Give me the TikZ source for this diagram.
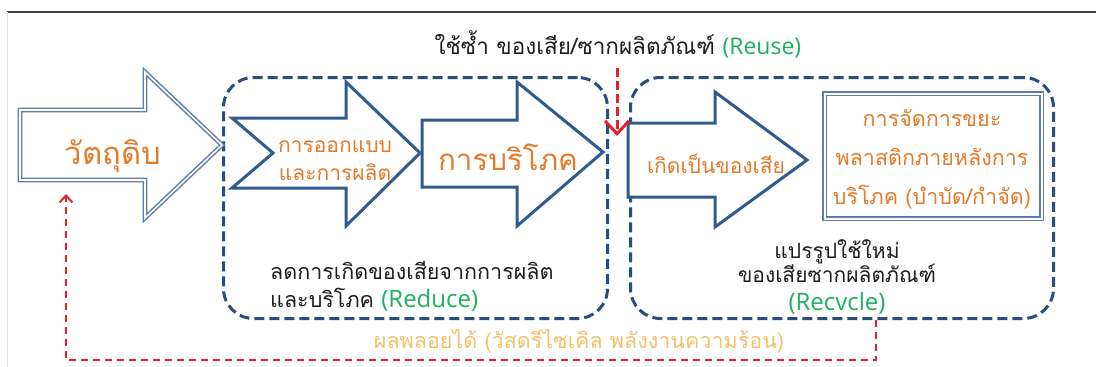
\documentclass[tikz,border=0pt]{standalone}
\usepackage{fontspec}
\usetikzlibrary{arrows.meta}
\newfontfamily\thai[Script=Thai]{Loma}
\newfontfamily\lat{Open Sans}
\definecolor{arrowblue}{HTML}{2F5B8F}
\definecolor{grpblue}{HTML}{2B4C7E}
\definecolor{dblblue}{HTML}{5F7FA8}
\definecolor{orangec}{HTML}{E47A2A}
\definecolor{greenc}{HTML}{1DB062}
\definecolor{goldc}{HTML}{F2C26A}
\definecolor{redc}{HTML}{E8202C}
\definecolor{inkc}{HTML}{1E1E1E}
\begin{document}
\begin{tikzpicture}[x=1pt,y=-1pt,
  outl/.style={draw=arrowblue, line width=3pt, line join=miter, fill=white},
  dbl/.style={draw=dblblue, double=white, double distance=1.6pt, line width=1.5pt, fill=white},
  grp/.style={draw=grpblue, line width=3pt, dash pattern=on 10pt off 5pt, rounded corners=30pt, inner sep=0pt},
  redline/.style={draw=redc, line width=2pt, dash pattern=on 7pt off 5pt},
  otxt/.style={text=orangec, inner sep=0pt},
  ktxt/.style={text=inkc, inner sep=0pt},
]
\useasboundingbox (0,0) rectangle (1096,367);
\fill[white] (0,0) rectangle (1096,367);
% frame lines
\draw[line width=1.6pt, draw=black!75] (7,12) -- (1096,12);
\draw[line width=0.6pt, draw=black!12] (7,12) -- (7,367);

% group boxes
\node[grp, minimum width=384pt, minimum height=241pt, anchor=north west] (reduce) at (222,76) {};
\node[grp, minimum width=423pt, minimum height=241pt, anchor=north west] (recycle) at (629,76) {};

% arrows
\draw[dbl] (20,110) -- (145,110) -- (145,72) -- (222,145) -- (145,218) -- (145,180) -- (20,180) -- cycle;
\draw[outl] (232,118) -- (346,118) -- (346,82) -- (420,153) -- (346,226) -- (346,188) -- (232,188) -- (273,153) -- cycle;
\draw[outl] (422,120) -- (517,120) -- (517,82) -- (603,152) -- (517,226) -- (517,187) -- (422,187) -- cycle;
\draw[outl] (628,123) -- (715,123) -- (715,92) -- (807,160) -- (715,227) -- (715,197) -- (628,197) -- cycle;
\node[dbl, minimum width=217pt, minimum height=125pt, anchor=north west, inner sep=0pt] (mgmt) at (824,93) {};

% texts (anchor base = baseline of the last line)
\node[otxt, font=\thai\fontsize{31}{36}\selectfont, anchor=base] (raw) at (113,164) {วัตถุดิบ};
\node[otxt, font=\thai\fontsize{21}{28}\selectfont, anchor=base, align=center] (design) at (335,180) {การออกแบบ\\และการผลิต};
\node[otxt, font=\thai\fontsize{29.5}{36}\selectfont, anchor=base] (consume) at (508,170) {การบริโภค};
\node[otxt, font=\thai\fontsize{21}{24}\selectfont, anchor=base] (waste) at (716,173) {เกิดเป็นของเสีย};
\node[otxt, font=\thai\fontsize{21.5}{39}\selectfont, anchor=base, align=center] (mgmttxt) at (932,204) {การจัดการขยะ\\พลาสติกภายหลังการ\\บริโภค (บำบัด/กำจัด)};
\node[ktxt, font=\thai\fontsize{22.5}{24}\selectfont, anchor=base] (reuse) at (618,54) {ใช้ซ้ำ ของเสีย/ซากผลิตภัณฑ์ {\lat\fontsize{23}{24}\selectfont\color{greenc}(Reuse)}};
\node[ktxt, font=\thai\fontsize{21.5}{28}\selectfont, anchor=base west, align=left] (reducetxt) at (270,307) {ลดการเกิดของเสียจากการผลิต\\และบริโภค {\lat\fontsize{24}{28}\selectfont\color{greenc}(Reduce)}};
\node[ktxt, font=\thai\fontsize{21}{24}\selectfont, anchor=base, align=center] (recycletxt) at (837,282) {แปรรูปใช้ใหม่\\ของเสียซากผลิตภัณฑ์};
\node[text=greenc, inner sep=0pt, font=\lat\fontsize{24}{28}\selectfont, anchor=base] (recyclelbl) at (837,310) {(Recvcle)};
\node[text=goldc, inner sep=0pt, font=\thai\fontsize{21.5}{24}\selectfont, anchor=base] (byprod) at (579,348) {ผลพลอยได้ (วัสดรีไซเคิล พลังงานความร้อน)};

% red connectors
\coordinate (reuseStart) at (617,68);
\coordinate (reuseTip) at (617,136);
\draw[draw=redc, line width=3pt, dash pattern=on 9pt off 4pt, -{Straight Barb[length=13pt,width=24pt,line width=3pt]}] (reuseStart) -- (reuseTip);
\coordinate (byDown) at (876,360);
\coordinate (rawBack) at (66,194);
\draw[redline, -{Straight Barb[length=7pt,width=13pt,line width=2pt]}] (recycle.south -| byDown) -- (byDown) -| (rawBack);
\end{tikzpicture}
\end{document}
